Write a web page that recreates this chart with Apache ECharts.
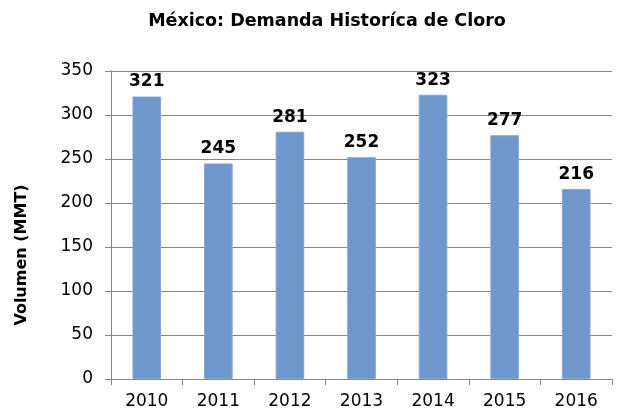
<!DOCTYPE html>
<html>
<head>
<meta charset="utf-8">
<script src="https://cdn.jsdelivr.net/npm/echarts@6/dist/echarts.min.js"></script>
<style>
  html,body{margin:0;padding:0;background:#fff;}
  #chart{width:619px;height:413px;}
</style>
</head>
<body>
<div id="chart"></div>
<script>
// data
var years=["2010","2011","2012","2013","2014","2015","2016"]
var demanda=[321,245,281,252,323,277,216]
var yTicks=[0,50,100,150,200,250,300,350]

var font="DejaVu Sans"
var myChart=echarts.init(document.getElementById('chart'))
var option={
    animation:false,
    title:{
        text:'México: Demanda Historíca de Cloro',
        left:322,
        top:7,
        textAlign:'center',
        textStyle:{fontFamily:font,fontSize:17.5,fontWeight:'bold',color:'#000'}
    },
    graphic:[{
        type:'text',
        x:22,
        y:255,
        rotation:Math.PI/2,
        style:{
            text:'Volumen (MMT)',
            font:'bold 16px "DejaVu Sans"',
            fill:'#000',
            align:'center',
            verticalAlign:'middle'
        }
    }],
    grid:{left:111,right:7,top:71,bottom:34},
    xAxis:{
        type:'category',
        data:years,
        axisLine:{lineStyle:{color:'#868686'}},
        axisTick:{show:true,length:6,lineStyle:{color:'#868686'}},
        axisLabel:{fontFamily:font,fontSize:17,color:'#000',margin:14}
    },
    yAxis:{
        type:'value',
        min:yTicks[0],
        max:yTicks[yTicks.length-1],
        interval:50,
        axisLine:{show:true,lineStyle:{color:'#868686'}},
        axisTick:{show:true,length:6,lineStyle:{color:'#868686'}},
        axisLabel:{fontFamily:font,fontSize:17,color:'#000',margin:18},
        splitLine:{lineStyle:{color:'#868686'}}
    },
    series:[{
        type:'bar',
        data:demanda,
        barWidth:'40%',
        itemStyle:{color:'#6f97cb',borderColor:'#85a7d4',borderWidth:1},
        label:{
            show:true,
            position:'top',
            distance:6,
            fontFamily:font,
            fontSize:17,
            fontWeight:'bold',
            color:'#000'
        }
    }]
}
myChart.setOption(option)
</script>
</body>
</html>
